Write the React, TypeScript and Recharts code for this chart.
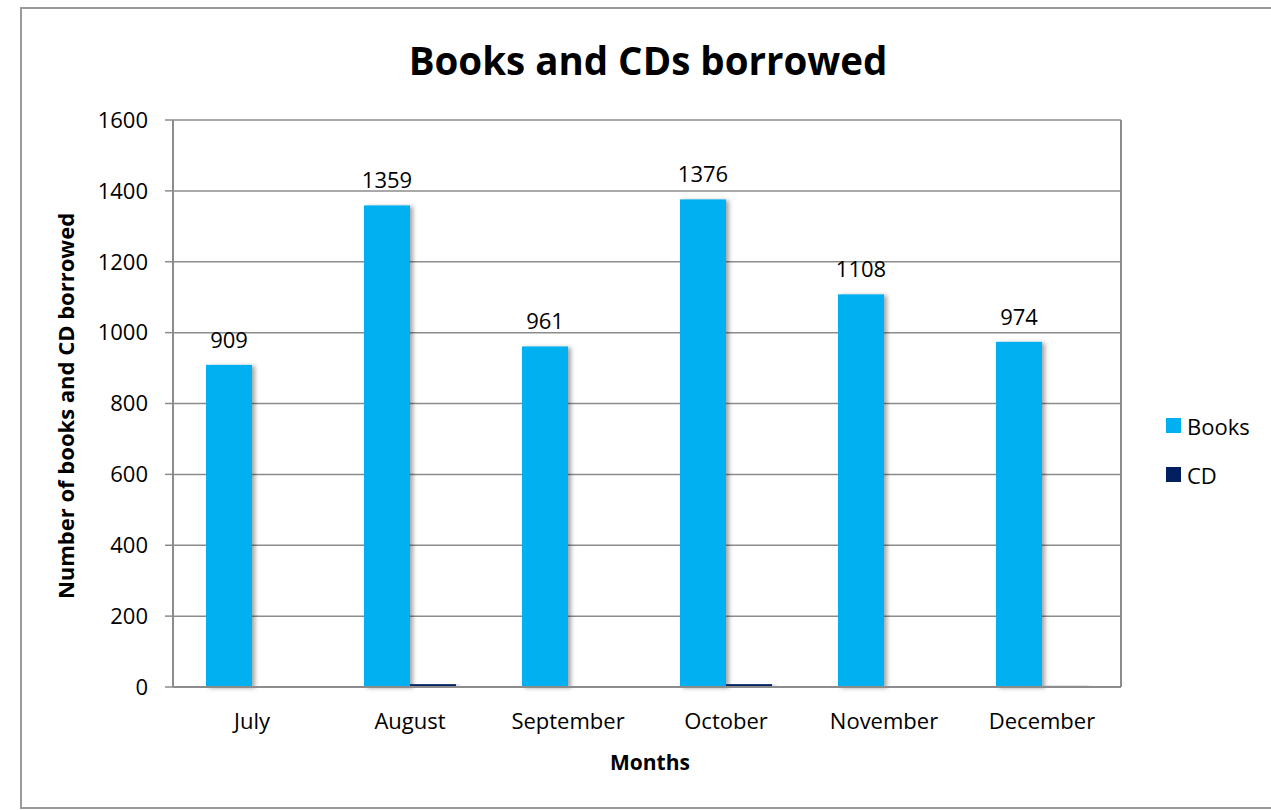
import {
  BarChart,
  Bar,
  XAxis,
  YAxis,
  CartesianGrid,
  LabelList,
  ReferenceLine,
} from 'recharts';

const months = ['July', 'August', 'September', 'October', 'November', 'December'];
const books = [909, 1359, 961, 1376, 1108, 974];
const cds = [0, 8, 0, 8, 0, 3];
const yTicks = [0, 200, 400, 600, 800, 1000, 1200, 1400, 1600];

const BOOKS_FILL = '#00B0F0';
const CD_FILL = '#002060';
const AXIS_GREY = '#8c8c8c';
const FONT = '"Open Sans", Lato, sans-serif';

const data = months.map((month, i) => ({ month, books: books[i], cd: cds[i] }));

const ShadowBar = (props: any) => {
  const { x, y, width, height, fill } = props;
  if (!height || height <= 0) return null;
  return (
    <rect x={x} y={y} width={width} height={height} fill={fill} filter="url(#barShadow)" />
  );
};

const legendItems = [
  { label: 'Books', color: BOOKS_FILL },
  { label: 'CD', color: CD_FILL },
];

function LegendBox() {
  return (
    <div style={{ fontFamily: FONT, fontSize: 22, color: '#000' }}>
      {legendItems.map((it) => (
        <div
          key={it.label}
          style={{ display: 'flex', alignItems: 'center', height: 49 }}
        >
          <span
            style={{
              width: 15,
              height: 15,
              background: it.color,
              display: 'inline-block',
              marginRight: 6,
            }}
          />
          {it.label}
        </div>
      ))}
    </div>
  );
}

export default function App() {
  return (
    <div
      style={{
        position: 'absolute',
        left: 0,
        top: 0,
        width: 1271,
        height: 810,
        overflow: 'hidden',
        background: '#fff',
        fontFamily: FONT,
      }}
    >
      <div
        style={{
          position: 'absolute',
          left: 20,
          top: 7,
          width: 1270,
          height: 798,
          border: '2px solid #9a9a9a',
        }}
      />
      <div
        style={{
          position: 'absolute',
          left: 648,
          top: 60,
          transform: 'translate(-50%, -50%)',
          whiteSpace: 'nowrap',
          fontSize: 38.5,
          fontWeight: 700,
        }}
      >
        Books and CDs borrowed
      </div>
      <div
        style={{
          position: 'absolute',
          left: 65,
          top: 406,
          transform: 'translate(-50%, -50%) rotate(-90deg)',
          whiteSpace: 'nowrap',
          fontSize: 22,
          fontWeight: 700,
        }}
      >
        Number of books and CD borrowed
      </div>
      <div
        style={{
          position: 'absolute',
          left: 650,
          top: 762,
          transform: 'translate(-50%, -50%)',
          whiteSpace: 'nowrap',
          fontSize: 21,
          fontWeight: 700,
        }}
      >
        Months
      </div>
      <div style={{ position: 'absolute', left: 1166, top: 401 }}>
        <LegendBox />
      </div>
      <div style={{ position: 'absolute', left: 0, top: 0 }}>
        <BarChart
          width={1271}
          height={810}
          data={data}
          margin={{ top: 120, right: 149, left: 20, bottom: 43 }}
          barCategoryGap={33}
          barGap={0}
        >
          <defs>
            <filter id="barShadow" x="-20%" y="-5%" width="150%" height="115%">
              <feDropShadow dx="3" dy="1" stdDeviation="2" floodColor="#000" floodOpacity="0.35" />
            </filter>
            <filter id="lineShadow" x="-50%" y="-50%" width="200%" height="200%">
              <feDropShadow dx="2" dy="-2" stdDeviation="3" floodColor="#000" floodOpacity="0.35" />
            </filter>
          </defs>
          <CartesianGrid vertical={false} stroke={AXIS_GREY} strokeWidth={1.5} />
          <ReferenceLine y={1600} stroke={AXIS_GREY} strokeWidth={2} filter="url(#lineShadow)" />
          <XAxis
            dataKey="month"
            height={80}
            tickLine={false}
            tickSize={0}
            tickMargin={26}
            axisLine={{ stroke: AXIS_GREY, strokeWidth: 2 }}
            tick={{ fontSize: 22, fill: '#000', fontFamily: FONT }}
          />
          <YAxis
            width={153}
            domain={[0, 1600]}
            ticks={yTicks}
            interval={0}
            tickSize={8}
            tickMargin={17}
            axisLine={{ stroke: AXIS_GREY, strokeWidth: 2 }}
            tickLine={{ stroke: AXIS_GREY, strokeWidth: 1.5 }}
            tick={{ fontSize: 22, fill: '#000', fontFamily: FONT }}
          />
          <YAxis
            yAxisId="frame"
            orientation="right"
            width={1}
            domain={[0, 1600]}
            tick={false}
            tickLine={false}
            axisLine={{ stroke: AXIS_GREY, strokeWidth: 2 }}
          />
          <Bar
            dataKey="books"
            name="Books"
            fill={BOOKS_FILL}
            shape={ShadowBar}
            isAnimationActive={false}
          >
            <LabelList
              dataKey="books"
              position="top"
              offset={17}
              style={{ fontSize: 22, fill: '#000', fontFamily: FONT }}
            />
          </Bar>
          <Bar
            dataKey="cd"
            name="CD"
            fill={CD_FILL}
            shape={ShadowBar}
            isAnimationActive={false}
          />
        </BarChart>
      </div>
    </div>
  );
}
